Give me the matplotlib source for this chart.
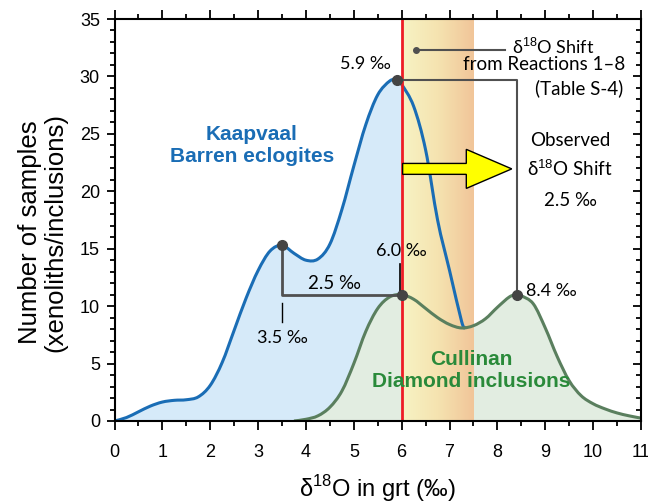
import matplotlib
matplotlib.use('Agg')
import matplotlib.pyplot as plt
import numpy as np
from matplotlib.colors import LinearSegmentedColormap
from matplotlib.patches import FancyArrow, PathPatch
from matplotlib.path import Path
from matplotlib.ticker import MultipleLocator

# Kaapvaal barren eclogites
kaap_x = [0, 0.25, 0.5, 0.75, 1.0, 1.25, 1.5, 1.75, 2.0, 2.25, 2.5, 2.75,
          3.0, 3.25, 3.5, 3.75, 4.0, 4.25, 4.5, 4.75, 5.0, 5.25, 5.5, 5.75,
          5.9, 6.0, 6.25, 6.5, 6.75, 7.0, 7.25, 7.32]
kaap_y = [0, 0.3, 0.8, 1.3, 1.65, 1.8, 1.85, 2.1, 3.1, 5.1, 7.9, 10.7,
          13.1, 14.8, 15.3, 14.6, 14.0, 14.1, 15.4, 18.4, 22.2, 25.8, 28.4, 29.6,
          29.7, 29.3, 27.4, 23.6, 17.5, 13.1, 8.7, 8.1]

# Cullinan diamond inclusions
cull_x = [3.75, 4.0, 4.25, 4.5, 4.75, 5.0, 5.25, 5.5, 5.75, 6.0, 6.25, 6.5,
          6.75, 7.0, 7.25, 7.5, 7.75, 8.0, 8.25, 8.4, 8.5, 8.75, 9.0, 9.25,
          9.5, 9.75, 10.0, 10.25, 10.5, 10.75, 11.0]
cull_y = [0, 0.15, 0.45, 1.2, 2.6, 5.0, 7.8, 9.8, 10.8, 11.0, 10.6, 9.8,
          9.0, 8.4, 8.1, 8.3, 8.9, 9.9, 10.8, 11.0, 10.9, 10.2, 8.1, 5.6,
          3.5, 2.2, 1.5, 1.05, 0.7, 0.45, 0.25]

# marked peaks
peak_x = [3.5, 5.9, 6.0, 8.4]
peak_y = [15.3, 29.7, 11.0, 11.0]

band = (6.0, 7.5)


def smooth_path(xs, ys, closed=False):
    # Catmull-Rom through the points, drawn as cubic Bezier segments
    p = np.column_stack([xs, ys]).astype(float)
    verts = [p[0]]
    codes = [Path.MOVETO]
    n = len(p)
    for i in range(n - 1):
        p0 = p[max(i - 1, 0)]
        p1, p2 = p[i], p[i + 1]
        p3 = p[min(i + 2, n - 1)]
        verts += [p1 + (p2 - p0) / 6, p2 - (p3 - p1) / 6, p2]
        codes += [Path.CURVE4] * 3
    if closed:
        verts += [(p[-1][0], 0), (p[0][0], 0), p[0]]
        codes += [Path.LINETO, Path.LINETO, Path.CLOSEPOLY]
    return Path(verts, codes)


plt.rcParams['mathtext.fontset'] = 'custom'
plt.rcParams['mathtext.rm'] = 'Liberation Sans'
ann_font = ['Lato', 'DejaVu Sans']
ax_font = ['Liberation Sans', 'DejaVu Sans']
gray = '#505050'

fig = plt.figure(figsize=(6.48, 5.04), dpi=100)
ax = fig.add_axes([0.1767, 0.1647, 0.8125, 0.7976])

ax.add_patch(PathPatch(smooth_path(kaap_x, kaap_y, closed=True),
                       facecolor='#d6eaf9', lw=0, zorder=1))
ax.add_patch(PathPatch(smooth_path(cull_x, cull_y, closed=True),
                       facecolor='#e2ede1', lw=0, zorder=1.5))

# shaded shift band
cmap = LinearSegmentedColormap.from_list('band', ['#f7f3c4', '#f5e3b0', '#f1c599'])
grad = np.linspace(0, 1, 256).reshape(1, -1)
ax.imshow(grad, cmap=cmap, extent=[band[0], band[1], 0, 35], aspect='auto',
          zorder=2, interpolation='bilinear')

ax.add_patch(PathPatch(smooth_path(kaap_x, kaap_y), facecolor='none',
                       edgecolor='#1a6db5', lw=2.2, zorder=4))
ax.add_patch(PathPatch(smooth_path(cull_x, cull_y), facecolor='none',
                       edgecolor='#5a7f5e', lw=2.2, zorder=4))
ax.axvline(6.0, color='#ee1c25', lw=2, zorder=5)

# connector lines
ax.plot([3.5, 3.5, 6.0], [15.3, 11.0, 11.0], color=gray, lw=2, zorder=5)
ax.plot([5.9, 8.4, 8.4], [29.7, 29.7, 11.0], color=gray, lw=1.5, zorder=5)
ax.plot([3.5, 3.5], [10.3, 8.6], color='black', lw=1, zorder=5)
ax.plot([5.97, 5.97], [13.7, 11.0], color='black', lw=1.2, zorder=5)
ax.plot([6.3, 8.15], [32.3, 32.3], color=gray, lw=1.5, zorder=5)
ax.plot([6.3], [32.3], 'o', color=gray, ms=4, zorder=6)
ax.plot(peak_x, peak_y, 'o', color='#444444', ms=7, zorder=6)

arrow = FancyArrow(6.02, 21.95, 2.28, 0, width=0.95, head_width=3.4,
                   head_length=0.95, length_includes_head=True,
                   facecolor='#ffff00', edgecolor='black', lw=1, zorder=6)
ax.add_patch(arrow)

# labels
ax.text(2.87, 24.0, 'Kaapvaal\nBarren eclogites', color='#1a6db5', fontsize=15,
        fontweight='bold', ha='center', va='center', family=ax_font,
        linespacing=1.2, zorder=7)
ax.text(7.45, 4.4, 'Cullinan\nDiamond inclusions', color='#2a8a3a', fontsize=15,
        fontweight='bold', ha='center', va='center', family=ax_font,
        linespacing=1.2, zorder=7)

ax.text(4.6, 12.0, '2.5 ‰', fontsize=13.5, ha='center', va='center', family=ann_font, zorder=7)
ax.text(3.5, 7.2, '3.5 ‰', fontsize=13, ha='center', va='center', family=ann_font, zorder=7)
ax.text(6.0, 14.8, '6.0 ‰', fontsize=13, ha='center', va='center', family=ann_font, zorder=7)
ax.text(5.25, 31.1, '5.9 ‰', fontsize=13, ha='center', va='center', family=ann_font, zorder=7)
ax.text(8.6, 11.3, '8.4 ‰', fontsize=13, ha='left', va='center', family=ann_font, zorder=7)

ax.text(9.17, 32.6, 'δ$^{18}$O Shift', fontsize=13, ha='center', va='center', family=ann_font, zorder=7)
ax.text(10.67, 31.05, 'from Reactions 1–8', fontsize=13.5, ha='right', va='center', family=ann_font, zorder=7)
ax.text(10.62, 29.0, '(Table S-4)', fontsize=13.5, ha='right', va='center', family=ann_font, zorder=7)

ax.text(9.52, 24.4, 'Observed', fontsize=13.5, ha='center', va='center', family=ann_font, zorder=7)
ax.text(9.52, 22.0, 'δ$^{18}$O Shift', fontsize=13.5, ha='center', va='center', family=ann_font, zorder=7)
ax.text(9.52, 19.2, '2.5 ‰', fontsize=13.5, ha='center', va='center', family=ann_font, zorder=7)

ax.set_xlim(0, 11)
ax.set_ylim(0, 35)
ax.xaxis.set_major_locator(MultipleLocator(1))
ax.xaxis.set_minor_locator(MultipleLocator(0.5))
ax.yaxis.set_major_locator(MultipleLocator(5))
ax.yaxis.set_minor_locator(MultipleLocator(1))
ax.tick_params(which='both', top=True, right=True, width=1.3, labelsize=13)
ax.tick_params(axis='x', which='major', direction='out', length=6.3, pad=10.5)
ax.tick_params(axis='y', which='major', direction='out', length=5.8, pad=4.7)
ax.tick_params(which='minor', direction='out', length=3.3)
for t in ax.xaxis.get_ticklines(minor=False)[1::2] + ax.xaxis.get_ticklines(minor=True)[1::2]:
    t.set_marker(2)  # top ticks point down into the axes
for t in ax.yaxis.get_ticklines(minor=False)[1::2] + ax.yaxis.get_ticklines(minor=True)[1::2]:
    t.set_marker(0)  # right ticks point left into the axes
for lab in ax.get_xticklabels() + ax.get_yticklabels():
    lab.set_family(ax_font)
for s in ax.spines.values():
    s.set_linewidth(1.5)
    s.set_zorder(8)

ax.set_xlabel('δ$^{18}$O in grt (‰)', fontsize=17, family=ax_font)
ax.xaxis.set_label_coords(0.5, -0.13)
ax.set_ylabel('Number of samples\n(xenoliths/inclusions)', fontsize=18.5,
              family=ax_font, linespacing=1.05)
ax.yaxis.set_label_coords(-0.09, 0.47)

fig.savefig('out.png', dpi=100)
